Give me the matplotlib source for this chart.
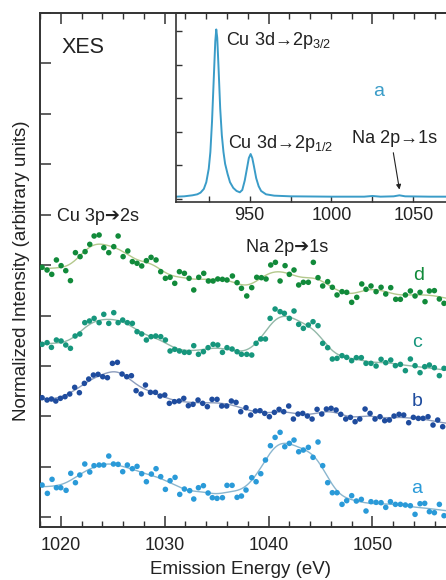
import numpy as np
import matplotlib
matplotlib.use('Agg')
import matplotlib.pyplot as plt
from matplotlib.ticker import MultipleLocator

plt.rcParams['font.family'] = ['Liberation Sans', 'DejaVu Sans']
plt.rcParams['mathtext.fontset'] = 'custom'
plt.rcParams['mathtext.rm'] = 'Liberation Sans'

# XES spectra, (energy eV, normalized intensity), offset as in the figure
a_pts = [(1018.2, 0.64), (1018.71, 0.475), (1019.16, 0.753), (1019.58, 0.587), (1020.0, 0.587),
         (1020.51, 0.535), (1020.96, 0.872), (1021.41, 0.687), (1021.83, 0.839), (1022.31, 1.057),
         (1022.79, 0.898), (1023.2, 1.024), (1023.69, 1.037), (1024.13, 1.037), (1024.62, 1.215),
         (1025.07, 1.057), (1025.52, 1.05), (1025.96, 0.905), (1026.41, 1.037), (1026.89, 0.964),
         (1027.34, 1.01), (1027.79, 0.865), (1028.24, 0.706), (1028.72, 0.858), (1029.17, 0.964),
         (1029.62, 0.806), (1030.07, 0.554), (1030.52, 0.726), (1031.0, 0.792), (1031.45, 0.455),
         (1031.9, 0.561), (1032.41, 0.528), (1032.8, 0.363), (1033.25, 0.587), (1033.73, 0.627),
         (1034.18, 0.482), (1034.59, 0.389), (1035.04, 0.376), (1035.56, 0.389), (1036.0, 0.634),
         (1036.49, 0.634), (1036.97, 0.396), (1037.39, 0.422), (1037.83, 0.541), (1038.38, 0.786),
         (1038.8, 0.706), (1039.25, 0.865), (1039.7, 1.136), (1040.18, 1.42), (1040.63, 1.585),
         (1041.11, 1.685), (1041.56, 1.40), (1042.0, 1.466), (1042.45, 1.532), (1042.9, 1.30),
         (1043.35, 1.334), (1043.83, 1.387), (1044.28, 1.189), (1044.76, 1.493), (1045.21, 1.024),
         (1045.69, 0.687), (1046.14, 0.488), (1046.59, 0.488), (1047.07, 0.257), (1047.52, 0.33),
         (1048.0, 0.429), (1048.45, 0.323), (1048.93, 0.356), (1049.38, 0.125), (1049.86, 0.31),
         (1050.35, 0.297), (1050.83, 0.29), (1051.28, 0.197), (1051.73, 0.31), (1052.21, 0.257),
         (1052.69, 0.257), (1053.17, 0.244), (1053.65, 0.23), (1054.1, 0.059), (1054.58, 0.27),
         (1055.03, 0.277), (1055.48, 0.112), (1055.96, 0.092), (1056.44, 0.257), (1056.89, 0.032)]

b_pts = [(1018.2, 2.372), (1018.68, 2.326), (1019.1, 2.346), (1019.52, 2.306), (1019.96, 2.359),
         (1020.41, 2.392), (1020.86, 2.445), (1021.34, 2.577), (1021.79, 2.471), (1022.27, 2.656),
         (1022.69, 2.742), (1023.14, 2.821), (1023.59, 2.835), (1024.04, 2.788), (1024.49, 2.769),
         (1024.97, 3.053), (1025.45, 3.073), (1025.9, 2.841), (1026.35, 2.788), (1026.8, 2.808),
         (1027.25, 2.511), (1027.73, 2.445), (1028.15, 2.623), (1028.63, 2.478), (1029.11, 2.478),
         (1029.56, 2.405), (1030.01, 2.425), (1030.45, 2.26), (1030.94, 2.293), (1031.39, 2.306),
         (1031.84, 2.359), (1032.28, 2.213), (1032.73, 2.24), (1033.21, 2.326), (1033.66, 2.26),
         (1034.11, 2.194), (1034.56, 2.339), (1035.04, 2.339), (1035.49, 2.207), (1035.97, 2.207),
         (1036.42, 2.306), (1036.87, 2.279), (1037.32, 2.094), (1037.83, 2.174), (1038.28, 2.028),
         (1038.73, 2.108), (1039.18, 2.114), (1039.63, 2.061), (1040.08, 1.995), (1040.56, 2.081),
         (1041.01, 2.141), (1041.46, 2.094), (1041.94, 2.207), (1042.39, 1.949), (1042.84, 2.048),
         (1043.29, 2.061), (1043.74, 2.008), (1044.19, 1.949), (1044.67, 2.141), (1045.12, 2.048),
         (1045.57, 2.147), (1046.02, 2.161), (1046.5, 2.128), (1046.95, 2.042), (1047.43, 1.949),
         (1047.88, 1.982), (1048.33, 1.896), (1048.78, 1.949), (1049.29, 2.147), (1049.77, 2.061),
         (1050.25, 1.949), (1050.73, 1.995), (1051.18, 1.916), (1051.63, 1.929), (1052.08, 2.008),
         (1052.56, 2.042), (1053.01, 2.028), (1053.49, 1.876), (1053.94, 1.982), (1054.42, 1.962),
         (1054.87, 1.962), (1055.35, 1.995), (1055.83, 1.83), (1056.28, 1.929), (1056.76, 1.797)]

c_pts = [(1018.2, 3.43), (1018.68, 3.463), (1019.1, 3.37), (1019.58, 3.516), (1020.03, 3.496),
         (1020.48, 3.417), (1020.93, 3.351), (1021.38, 3.595), (1021.83, 3.635), (1022.31, 3.86),
         (1022.76, 3.893), (1023.21, 3.945), (1023.69, 3.86), (1024.14, 4.025), (1024.62, 3.846),
         (1025.1, 4.058), (1025.52, 3.86), (1025.96, 3.912), (1026.41, 3.86), (1026.89, 3.846),
         (1027.34, 3.681), (1027.79, 3.635), (1028.24, 3.516), (1028.69, 3.582), (1029.14, 3.595),
         (1029.62, 3.582), (1030.07, 3.516), (1030.52, 3.298), (1030.97, 3.331), (1031.42, 3.298),
         (1031.9, 3.271), (1032.35, 3.271), (1032.8, 3.403), (1033.25, 3.232), (1033.73, 3.284),
         (1034.18, 3.364), (1034.66, 3.43), (1035.11, 3.417), (1035.56, 3.271), (1036.0, 3.364),
         (1036.49, 3.337), (1036.97, 3.284), (1037.39, 3.232), (1037.9, 3.232), (1038.38, 3.218),
         (1038.8, 3.45), (1039.25, 3.536), (1039.7, 3.536), (1040.15, 3.945), (1040.63, 4.13),
         (1041.11, 4.078), (1041.52, 4.045), (1042.0, 3.945), (1042.45, 4.091), (1042.9, 3.826),
         (1043.35, 3.747), (1043.83, 3.813), (1044.28, 3.879), (1044.76, 3.8), (1045.21, 3.45),
         (1045.69, 3.364), (1046.14, 3.139), (1046.59, 3.152), (1047.07, 3.205), (1047.52, 3.172),
         (1048.0, 3.106), (1048.45, 3.166), (1048.93, 3.166), (1049.38, 3.053), (1049.86, 3.053),
         (1050.35, 3.0), (1050.83, 3.133), (1051.28, 3.066), (1051.76, 3.119), (1052.21, 3.007),
         (1052.69, 3.033), (1053.17, 2.908), (1053.65, 3.139), (1054.1, 3.007), (1054.58, 2.868),
         (1055.03, 2.987), (1055.48, 3.02), (1055.96, 2.967), (1056.44, 2.809), (1056.89, 2.954)]

d_pts = [(1018.2, 4.957), (1018.68, 4.904), (1019.13, 4.818), (1019.58, 5.103), (1020.03, 4.99),
         (1020.48, 4.891), (1020.93, 4.693), (1021.41, 5.248), (1021.86, 5.169), (1022.34, 5.268),
         (1022.79, 5.413), (1023.21, 5.578), (1023.69, 5.598), (1024.14, 5.347), (1024.62, 5.248),
         (1025.1, 5.367), (1025.52, 5.578), (1026.0, 5.169), (1026.45, 5.281), (1026.89, 5.07),
         (1027.34, 5.037), (1027.79, 4.984), (1028.24, 5.089), (1028.69, 5.155), (1029.17, 5.103),
         (1029.62, 4.871), (1030.07, 4.739), (1030.52, 4.759), (1030.97, 4.64), (1031.42, 4.871),
         (1031.9, 4.838), (1032.35, 4.739), (1032.8, 4.508), (1033.28, 4.759), (1033.76, 4.838),
         (1034.21, 4.686), (1034.66, 4.686), (1035.11, 4.726), (1035.56, 4.719), (1036.0, 4.706),
         (1036.52, 4.785), (1036.97, 4.653), (1037.39, 4.541), (1037.9, 4.389), (1038.38, 4.554),
         (1038.86, 4.759), (1039.31, 4.752), (1039.76, 4.726), (1040.21, 5.003), (1040.66, 5.056),
         (1041.11, 4.686), (1041.59, 4.99), (1042.0, 4.818), (1042.45, 4.904), (1042.9, 4.607),
         (1043.35, 4.66), (1043.83, 4.66), (1044.31, 5.056), (1044.76, 4.752), (1045.21, 4.587),
         (1045.69, 4.673), (1046.14, 4.561), (1046.59, 4.409), (1047.07, 4.475), (1047.52, 4.461),
         (1048.0, 4.263), (1048.49, 4.362), (1048.97, 4.627), (1049.38, 4.521), (1049.86, 4.587),
         (1050.35, 4.475), (1050.83, 4.561), (1051.28, 4.428), (1051.76, 4.554), (1052.24, 4.323),
         (1052.69, 4.323), (1053.17, 4.409), (1053.65, 4.488), (1054.1, 4.389), (1054.58, 4.461),
         (1055.06, 4.276), (1055.48, 4.488), (1055.96, 4.495), (1056.44, 4.329), (1056.89, 4.243)]

series_names = ['a', 'b', 'c', 'd']
dot_colors = ['#2a9ad8', '#1f4c9e', '#16967c', '#118a3a']
fit_colors = ['#8ab6cf', '#8c9cbc', '#93b8a8', '#b4c88c']
label_pos = [(1054.3, 0.58), (1054.3, 2.29), (1054.3, 3.46), (1054.4, 4.80)]

# overview spectrum (inset)
inset_e = [905, 910, 915, 918, 920, 922, 923.5, 925, 926, 927, 928, 929, 929.6, 930.2, 931,
           932, 933, 934, 935, 936.5, 938, 940, 942, 944, 945.5, 947, 948.5, 949.5, 950.6,
           951.6, 952.6, 954, 955.5, 957, 960, 965, 975, 1000, 1020, 1025, 1030, 1038,
           1041.5, 1045, 1060, 1090]
inset_v = [0.07, 0.08, 0.11, 0.14, 0.19, 0.3, 0.5, 0.9, 1.4, 2.3, 3.5, 4.7, 5.05, 4.8, 3.9,
           2.7, 1.9, 1.4, 1.05, 0.75, 0.5, 0.33, 0.24, 0.2, 0.27, 0.55, 0.95, 1.22, 1.34,
           1.22, 0.98, 0.62, 0.38, 0.24, 0.14, 0.1, 0.08, 0.07, 0.07, 0.09, 0.07, 0.08,
           0.11, 0.08, 0.07, 0.07]

txt = '#222222'
W, H = 446, 580
fig = plt.figure(figsize=(W / 100, H / 100), dpi=100)

# main axes run past the right edge of the picture, as in the original crop
ax = fig.add_axes([40 / W, 53 / H, 435.3 / W, 514 / H])
ax.set_xlim(1018, 1059.9)
ax.set_ylim(-0.192, 10.0)
ax.set_zorder(2)
ax.patch.set_visible(False)

grid = np.linspace(1018, 1060, 500)
for pts, dc, fc, name, lp in zip([a_pts, b_pts, c_pts, d_pts], dot_colors, fit_colors,
                                 series_names, label_pos):
    e = np.array([p[0] for p in pts])
    v = np.array([p[1] for p in pts])
    # smooth fit through the points (gaussian kernel)
    w = np.exp(-(grid[:, None] - e[None, :]) ** 2 / (2 * 1.0 ** 2))
    fit = (w * v).sum(axis=1) / w.sum(axis=1)
    ax.plot(grid, fit, color=fc, lw=1.0, zorder=2)
    ax.scatter(e, v, s=16, color=dc, edgecolors='none', zorder=3)
    ax.text(lp[0], lp[1], name, color=dc, fontsize=14, ha='center', va='center')

ax.xaxis.set_major_locator(MultipleLocator(10))
ax.xaxis.set_minor_locator(MultipleLocator(2))
ax.yaxis.set_major_locator(MultipleLocator(1))
ax.tick_params(which='both', direction='in', top=True, right=False, labelleft=False,
               colors='#333333', labelcolor=txt, labelsize=13, pad=7)
ax.tick_params(which='major', length=8, width=1.1)
ax.tick_params(which='minor', length=4, width=1.0)
for s in ax.spines.values():
    s.set_color('#333333')
    s.set_linewidth(1.4)

ax.text(1020.03, 9.32, 'XES', fontsize=15.5, color=txt, ha='left', va='center')
ax.text(1019.64, 5.97, 'Cu 3p\u27942s', fontsize=13, color=txt, ha='left', va='center')
ax.text(1037.8, 5.36, 'Na 2p\u27941s', fontsize=13, color=txt, ha='left', va='center')

fig.text(240 / W, 1 - 569 / H, 'Emission Energy (eV)', fontsize=13.5, color=txt,
         ha='center', va='center')
fig.text(22 / W, 1 - 271 / H, 'Normalized Intensity (arbitrary units)', fontsize=13.5,
         color=txt, ha='center', va='center', rotation=90)

# inset with the full spectrum
axi = fig.add_axes([176 / W, 1 - 201.7 / H, 302.8 / W, 188.7 / H])
axi.set_zorder(1)
axi.set_facecolor('white')
axi.set_xlim(905, 1090)
axi.set_ylim(-0.08, 5.54)
axi.plot(inset_e, inset_v, color='#3a9cc8', lw=1.4)
axi.xaxis.set_major_locator(MultipleLocator(50))
axi.xaxis.set_minor_locator(MultipleLocator(25))
axi.yaxis.set_major_locator(MultipleLocator(1))
axi.tick_params(which='both', direction='in', top=False, right=False, labelleft=False,
                colors='#333333', labelcolor=txt, labelsize=13, pad=4)
axi.tick_params(which='major', length=4, width=1.0)
axi.tick_params(which='minor', length=4, width=1.0)
for s in axi.spines.values():
    s.set_color('#333333')
    s.set_linewidth(1.2)

axi.text(935.3, 4.58, 'Cu 3d\u21922p$_{3/2}$', fontsize=13, color=txt, ha='left', va='baseline')
axi.text(936.5, 1.52, 'Cu 3d\u21922p$_{1/2}$', fontsize=13, color=txt, ha='left', va='baseline')
axi.text(1012.4, 1.67, 'Na 2p\u21921s', fontsize=13, color=txt, ha='left', va='baseline')
axi.text(1029, 3.21, 'a', fontsize=14, color='#3a9cc8', ha='center', va='center')
axi.annotate('', xy=(1041.8, 0.2), xytext=(1037.5, 1.46),
             arrowprops=dict(arrowstyle='-|>', lw=0.8, color='#222222', mutation_scale=7))

fig.savefig('out.png', dpi=100)
